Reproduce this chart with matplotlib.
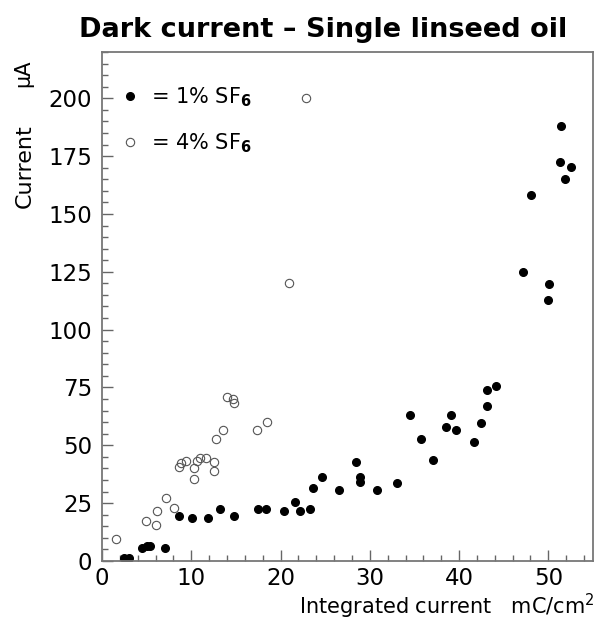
import matplotlib
matplotlib.use("Agg")
import matplotlib.pyplot as plt
from matplotlib.ticker import MultipleLocator

# 1% SF6 (filled dots)
x_sf1 = [2.5, 3.0, 4.45, 5.0, 5.4, 7.1, 8.6, 10.1, 11.9, 13.2, 14.8, 17.5, 18.4,
         20.4, 21.6, 22.2, 23.3, 23.6, 24.6, 26.6, 28.4, 28.9, 28.9, 30.8, 33.1,
         34.5, 35.7, 37.1, 38.5, 39.1, 39.7, 41.7, 42.5, 43.1, 43.1, 44.1,
         47.2, 48.1, 50.0, 50.1, 51.3, 51.4, 51.9, 52.5]
y_sf1 = [1.2, 1.2, 5.5, 6.5, 6.5, 5.5, 19.5, 18.7, 18.7, 22.6, 19.5, 22.4, 22.4,
         21.6, 25.7, 21.6, 22.4, 31.5, 36.5, 30.6, 42.6, 36.2, 34.3, 30.6, 33.6,
         62.9, 52.7, 43.7, 57.7, 62.9, 56.7, 51.6, 59.6, 66.8, 73.7, 75.8,
         125.0, 158.1, 113.0, 119.9, 172.4, 188.0, 165.2, 170.4]

# 4% SF6 (open circles)
x_sf4 = [1.6, 4.9, 6.0, 6.2, 7.2, 8.1, 8.6, 8.9, 9.4, 10.3, 10.3, 10.6, 11.0,
         11.6, 12.6, 12.6, 12.8, 13.5, 14.0, 14.7, 14.8, 17.4, 18.5, 21.0, 22.9]
y_sf4 = [9.4, 17.3, 15.6, 21.6, 27.4, 22.8, 40.6, 42.3, 43.3, 35.4, 40.1, 43.3,
         44.7, 44.7, 42.6, 38.7, 52.7, 56.7, 70.9, 70.1, 68.3, 56.7, 59.9, 120.2,
         200.3]

plt.rcParams['font.family'] = 'DejaVu Sans'

fig = plt.figure(figsize=(6.08, 6.28), dpi=100)
ax = fig.add_axes([0.1678, 0.1067, 0.8075, 0.8105])

ax.plot(x_sf1, y_sf1, 'o', color='black', markersize=5.5, linestyle='none',
        label='= 1% SF$_\\mathbf{6}$')
ax.plot(x_sf4, y_sf4, 'o', mfc='none', mec='#555555', mew=0.8, markersize=6,
        linestyle='none', label='= 4% SF$_\\mathbf{6}$')

ax.set_xlim(0, 55)
ax.set_ylim(0, 220)
ax.xaxis.set_major_locator(MultipleLocator(10))
ax.xaxis.set_minor_locator(MultipleLocator(2))
ax.yaxis.set_major_locator(MultipleLocator(25))
ax.yaxis.set_minor_locator(MultipleLocator(5))
ax.tick_params(which='both', direction='in', top=False, right=False,
               color='#666666', width=1, labelsize=16.5)
ax.tick_params(which='major', length=8)
ax.tick_params(which='minor', length=4)
ax.tick_params(axis='y', which='major', pad=7)
ax.tick_params(axis='x', which='major', pad=4)
for s in ax.spines.values():
    s.set_color('#777777')
    s.set_linewidth(1.3)

ax.legend(loc='upper left', bbox_to_anchor=(0.036, 0.935), frameon=False,
          fontsize=15, borderpad=0, borderaxespad=0, handlelength=1,
          handletextpad=0.5, labelspacing=1.1)

fig.text(323 / 608, 1 - 30 / 628, 'Dark current \u2013 Single linseed oil',
         ha='center', va='center', fontsize=19.5, fontweight='bold')
fig.text(25 / 608, 1 - 166 / 628, 'Current', rotation=90, ha='center',
         va='center', fontsize=16)
fig.text(23 / 608, 1 - 73 / 628, '\u03bcA', rotation=90, ha='center',
         va='center', fontsize=15)
fig.text(595 / 608, 1 - 606 / 628, 'Integrated current   mC/cm$^2$',
         ha='right', va='center', fontsize=15)

fig.savefig('out.png', dpi=100)
